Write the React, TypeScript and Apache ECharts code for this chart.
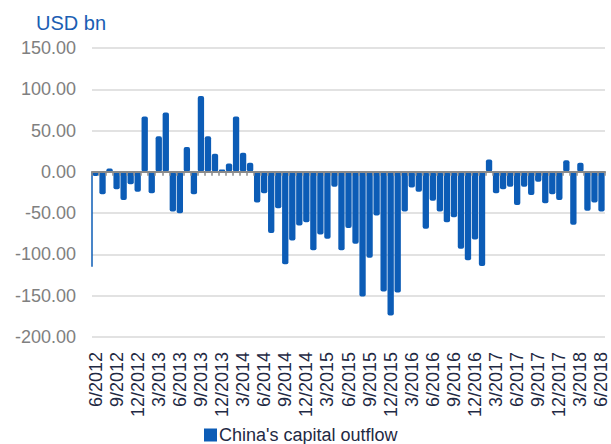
import React, { useEffect, useRef } from "react";
import * as echarts from "echarts";

// Monthly capital outflow, USD bn, 6/2012 .. 6/2018
const outflow: number[] = [
  -5, -27, 4, -21, -34, -15, -24, 67, -26, 43, 72, -48,
  -50, 30, -27, 92, 43, 22, 3, 10, 67, 23, 11, -37,
  -26, -74, -44, -112, -83, -65, -61, -95, -76, -81, -18, -95,
  -68, -87, -151, -104, -53, -145, -174, -146, -48, -19, -24, -69,
  -35, -48, -61, -55, -93, -107, -82, -114, 15, -26, -21, -18,
  -40, -18, -28, -12, -38, -27, -34, 14, -64, 11, -47, -37,
  -48,
];

// Thin stroke at the left edge of the plot (from 0 down to this value)
const leftEdgeStroke: number[] = [0, -115];

const yTicks = { min: -200, max: 150, interval: 50 };

const seriesName = "China's capital outflow";

const months: string[] = [];
for (let i = 0; i < outflow.length; i++) {
  const m = ((6 - 1 + i) % 12) + 1;
  const y = 2012 + Math.floor((6 - 1 + i) / 12);
  months.push(`${m}/${y}`);
}

const FONT = "'Liberation Sans', Arial, sans-serif";

export default function App() {
  const ref = useRef<HTMLDivElement>(null);

  useEffect(() => {
    if (!ref.current) return;
    const chart = echarts.init(ref.current, undefined, { renderer: "svg" });
    chart.setOption({
      animation: false,
      textStyle: { fontFamily: FONT },
      title: {
        text: "USD bn",
        left: 31,
        top: 8,
        textStyle: { color: "#1b5eb3", fontSize: 20, fontWeight: "normal", fontFamily: FONT },
      },
      legend: {
        left: 199,
        top: 421,
        icon: "rect",
        itemWidth: 13,
        itemHeight: 13,
        data: [seriesName],
        textStyle: { fontSize: 18, color: "#1f2a44", fontFamily: FONT, padding: [0, 0, 0, -3] },
      },
      grid: { left: 92, right: 6, top: 48, bottom: 107 },
      xAxis: [
        {
          type: "category",
          data: months,
          position: "bottom",
          axisLine: { show: false, onZero: false },
          axisTick: { show: false },
          splitLine: { show: false },
          axisLabel: {
            interval: 2,
            rotate: 90,
            margin: 15,
            fontSize: 18,
            color: "#1f2a44",
            fontFamily: FONT,
          },
        },
        {
          type: "category",
          data: months,
          position: "top",
          z: 10,
          axisLine: { show: true, onZero: true, lineStyle: { color: "#8a8a8a", width: 2 } },
          axisTick: {
            show: true,
            inside: true,
            interval: 0,
            length: 4,
            lineStyle: { color: "#8a8a8a", width: 1.5 },
          },
          axisLabel: { show: false },
          splitLine: { show: false },
        },
        { type: "value", min: 0, max: 1, show: false },
      ],
      yAxis: {
        type: "value",
        min: yTicks.min,
        max: yTicks.max,
        interval: yTicks.interval,
        axisLine: { show: false },
        axisTick: { show: false },
        axisLabel: {
          margin: 16,
          fontSize: 18,
          color: "#808080",
          fontFamily: FONT,
          formatter: (v: number) => v.toFixed(2),
        },
        splitLine: { lineStyle: { color: "#d9d9d9", width: 1.5 } },
      },
      series: [
        {
          name: seriesName,
          type: "bar",
          xAxisIndex: 0,
          data: outflow,
          barCategoryGap: "10%",
          itemStyle: { color: "#0c5cb6", borderRadius: 2 },
        },
        {
          type: "line",
          xAxisIndex: 2,
          data: leftEdgeStroke.map((v) => [0, v]),
          symbol: "none",
          clip: false,
          lineStyle: { color: "#0c5cb6", width: 1.5 },
          tooltip: { show: false },
        },
      ],
    });
    return () => chart.dispose();
  }, []);

  return (
    <div
      ref={ref}
      style={{ position: "fixed", left: 0, top: 0, width: 611, height: 444, background: "#fff" }}
    />
  );
}
